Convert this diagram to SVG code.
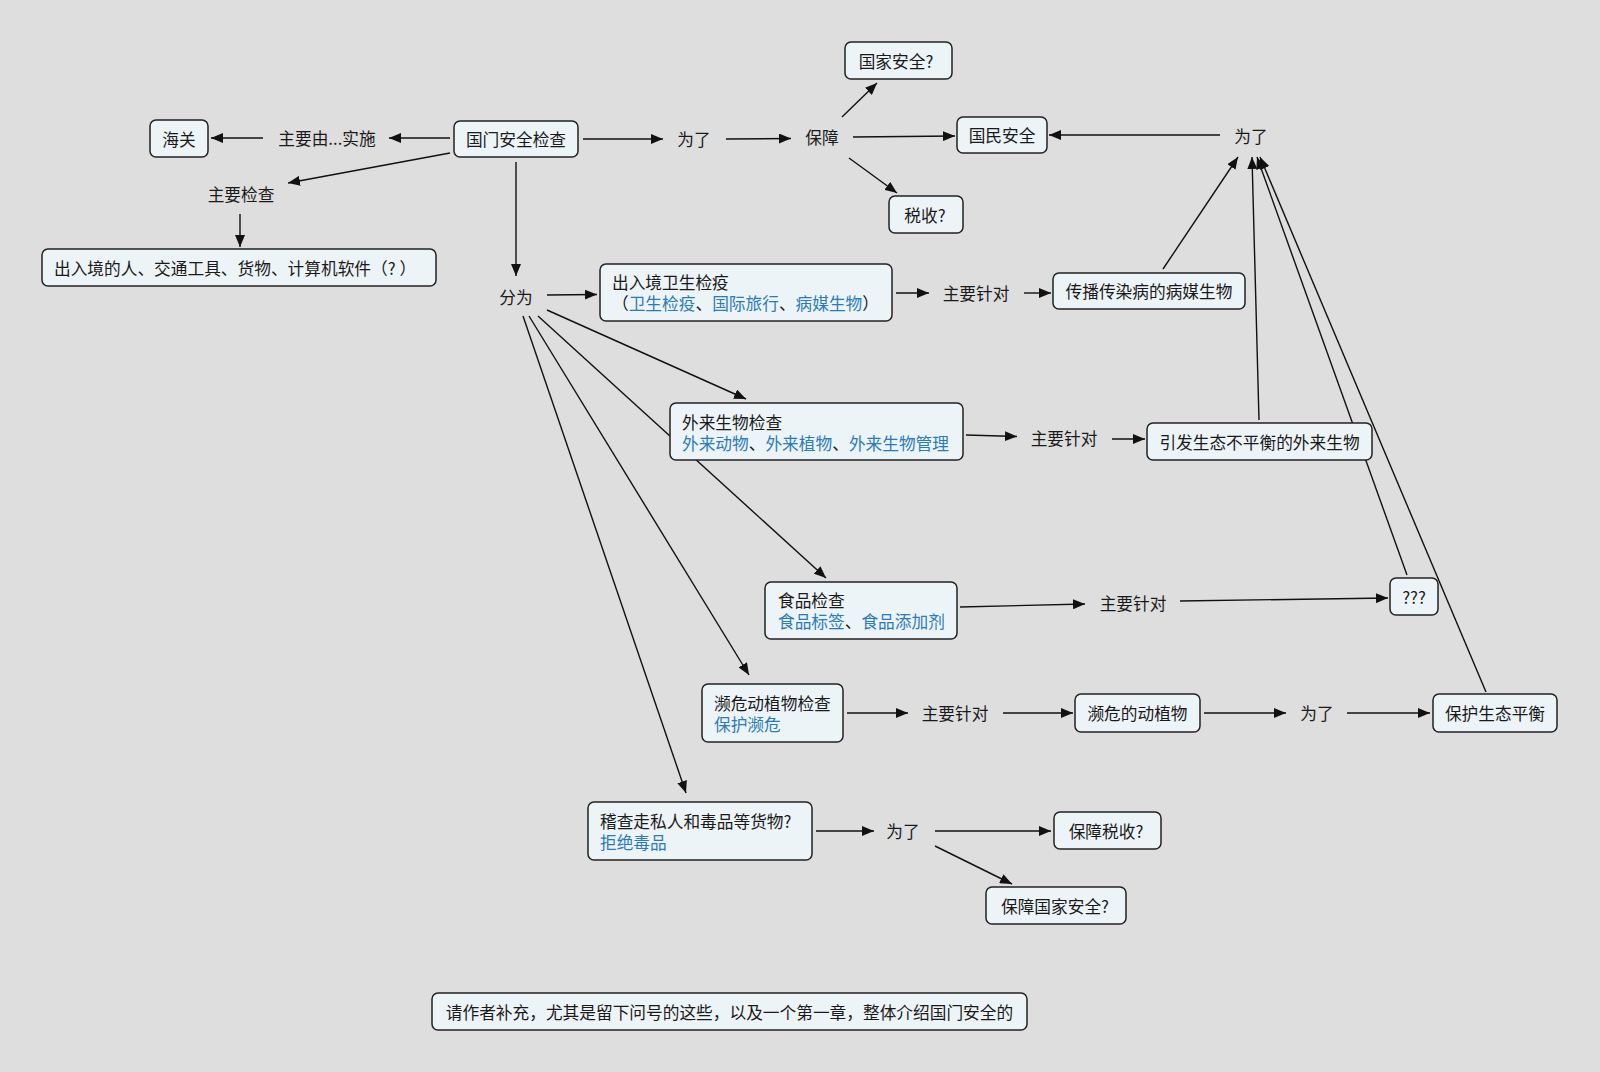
<svg xmlns="http://www.w3.org/2000/svg" width="1600" height="1072" viewBox="0 0 1600 1072">
<defs>
<marker id="arr" markerUnits="userSpaceOnUse" markerWidth="13" markerHeight="10" refX="12" refY="5" orient="auto">
<path d="M0,0 L12,5 L0,10 z" fill="#111"/>
</marker>
<style>
.bg{fill:#dedede}
.box{fill:#edf4f7;stroke:#222;stroke-width:1.5}
text{font-family:"Noto Sans CJK SC","Noto Sans",sans-serif;font-size:16.7px;fill:#1a1a1a;dominant-baseline:central}
.c{text-anchor:middle}
.b{fill:#2b7bb9}
#connectors line{stroke:#111;stroke-width:1.4;marker-end:url(#arr)}
</style>
</defs>
<rect class="bg" x="0" y="0" width="1600" height="1072"/>
<g id="connectors">
<line x1="450" y1="138" x2="389" y2="138"/>
<line x1="263" y1="138" x2="211" y2="138"/>
<line x1="583" y1="139" x2="663" y2="139"/>
<line x1="726" y1="139" x2="791" y2="138.5"/>
<line x1="842" y1="117" x2="877" y2="83"/>
<line x1="853" y1="137" x2="955" y2="136"/>
<line x1="849" y1="158" x2="897" y2="193"/>
<line x1="1220" y1="135" x2="1049" y2="135"/>
<line x1="450" y1="153" x2="288" y2="183"/>
<line x1="240" y1="214" x2="240" y2="247"/>
<line x1="516" y1="162" x2="516" y2="276"/>
<line x1="547" y1="295" x2="597" y2="294.5"/>
<line x1="547" y1="310" x2="746" y2="399"/>
<line x1="538" y1="316" x2="826" y2="578"/>
<line x1="529" y1="316" x2="749" y2="675"/>
<line x1="523" y1="316" x2="686" y2="793"/>
<line x1="896" y1="293" x2="929" y2="293"/>
<line x1="1024" y1="293" x2="1051" y2="293"/>
<line x1="1163" y1="269" x2="1238" y2="157"/>
<line x1="966" y1="435" x2="1017" y2="436.5"/>
<line x1="1112" y1="439" x2="1145" y2="439"/>
<line x1="1259" y1="420" x2="1252" y2="157"/>
<line x1="960" y1="607" x2="1085" y2="604"/>
<line x1="1180" y1="601" x2="1388" y2="598"/>
<line x1="1407" y1="575" x2="1257" y2="157"/>
<line x1="847" y1="713" x2="908" y2="713"/>
<line x1="1003" y1="713" x2="1073" y2="713"/>
<line x1="1204" y1="713" x2="1286" y2="713"/>
<line x1="1347" y1="713" x2="1430" y2="713"/>
<line x1="1486" y1="692" x2="1260" y2="157"/>
<line x1="816" y1="831" x2="874" y2="831"/>
<line x1="935" y1="831" x2="1051" y2="831"/>
<line x1="935" y1="846" x2="1012" y2="884"/>
</g>
<g id="labels">
<text class="c" x="327" y="138">主要由...实施</text>
<text class="c" x="241" y="194">主要检查</text>
<text class="c" x="694" y="139">为了</text>
<text class="c" x="822" y="137">保障</text>
<text class="c" x="1251" y="136">为了</text>
<text class="c" x="516" y="297">分为</text>
<text class="c" x="976" y="293">主要针对</text>
<text class="c" x="1064" y="438">主要针对</text>
<text class="c" x="1133" y="603">主要针对</text>
<text class="c" x="955" y="713">主要针对</text>
<text class="c" x="1317" y="713">为了</text>
<text class="c" x="903" y="831">为了</text>
</g>
<g id="n-guomen"><rect class="box" x="454" y="121" width="124" height="36" rx="6"/><text class="c" x="516" y="139">国门安全检查</text></g>
<g id="n-haiguan"><rect class="box" x="150" y="120" width="58" height="37" rx="6"/><text class="c" x="179" y="139">海关</text></g>
<g id="n-renyuan"><rect class="box" x="42" y="249" width="394" height="37" rx="6"/><text x="54" y="268">出入境的人、交通工具、货物、计算机软件（? ）</text></g>
<g id="n-guojia"><rect class="box" x="845" y="42" width="107" height="37" rx="6"/><text class="c" x="896" y="61">国家安全?</text></g>
<g id="n-guomin"><rect class="box" x="957" y="117" width="90" height="36" rx="6"/><text class="c" x="1002" y="135">国民安全</text></g>
<g id="n-shuishou"><rect class="box" x="889" y="196" width="74" height="37" rx="6"/><text class="c" x="925" y="215">税收?</text></g>
<g id="n-weisheng"><rect class="box" x="600" y="264" width="292" height="57" rx="6"/><text x="612" y="282">出入境卫生检疫</text><text x="612" y="303">（<tspan class="b">卫生检疫</tspan>、<tspan class="b">国际旅行</tspan>、<tspan class="b">病媒生物</tspan>）</text></g>
<g id="n-chuanbo"><rect class="box" x="1053" y="273" width="192" height="36" rx="6"/><text class="c" x="1149" y="291">传播传染病的病媒生物</text></g>
<g id="n-wailai"><rect class="box" x="670" y="403" width="293" height="57" rx="6"/><text x="682" y="422">外来生物检查</text><text x="682" y="443"><tspan class="b">外来动物</tspan>、<tspan class="b">外来植物</tspan>、<tspan class="b">外来生物管理</tspan></text></g>
<g id="n-yinfa"><rect class="box" x="1147" y="423" width="225" height="37" rx="6"/><text class="c" x="1259.5" y="442">引发生态不平衡的外来生物</text></g>
<g id="n-shipin"><rect class="box" x="765" y="582" width="192" height="57" rx="6"/><text x="778" y="600">食品检查</text><text x="778" y="621"><tspan class="b">食品标签</tspan>、<tspan class="b">食品添加剂</tspan></text></g>
<g id="n-wenhao"><rect class="box" x="1390" y="578" width="48" height="37" rx="6"/><text class="c" x="1414" y="597">???</text></g>
<g id="n-binwei"><rect class="box" x="702" y="684" width="141" height="58" rx="6"/><text x="714" y="703">濒危动植物检查</text><text x="714" y="724" class="b">保护濒危</text></g>
<g id="n-binweidzw"><rect class="box" x="1075" y="694" width="125" height="38" rx="6"/><text class="c" x="1137.5" y="713">濒危的动植物</text></g>
<g id="n-baohu"><rect class="box" x="1433" y="694" width="124" height="38" rx="6"/><text class="c" x="1495" y="713">保护生态平衡</text></g>
<g id="n-jicha"><rect class="box" x="588" y="802" width="224" height="58" rx="6"/><text x="600" y="821">稽查走私人和毒品等货物?</text><text x="600" y="842" class="b">拒绝毒品</text></g>
<g id="n-baozhangshui"><rect class="box" x="1054" y="812" width="107" height="37" rx="6"/><text class="c" x="1106" y="831">保障税收?</text></g>
<g id="n-baozhangguojia"><rect class="box" x="986" y="887" width="140" height="37" rx="6"/><text class="c" x="1055" y="906">保障国家安全?</text></g>
<g id="n-note"><rect class="box" x="432" y="993" width="595" height="37" rx="6"/><text class="c" x="729.5" y="1012">请作者补充，尤其是留下问号的这些，以及一个第一章，整体介绍国门安全的</text></g>
</svg>
